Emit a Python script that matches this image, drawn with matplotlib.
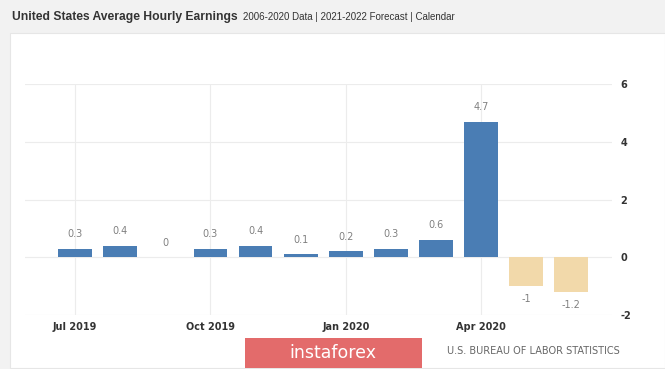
import numpy as np
import matplotlib.pyplot as plt
from matplotlib.patches import Rectangle

# monthly change in average hourly earnings, Jul 2019 .. Jun 2020
months = ["Jul 2019", "Aug 2019", "Sep 2019", "Oct 2019", "Nov 2019", "Dec 2019",
          "Jan 2020", "Feb 2020", "Mar 2020", "Apr 2020", "May 2020", "Jun 2020"]
values = [0.3, 0.4, 0, 0.3, 0.4, 0.1, 0.2, 0.3, 0.6, 4.7, -1, -1.2]
tick_idx = [0, 3, 6, 9]
yticks = [-2, 0, 2, 4, 6]

blue = "#4a7db4"
tan = "#f2d9aa"

plt.rcParams["axes.unicode_minus"] = False

fig = plt.figure(figsize=(6.65, 3.69), dpi=100)
fig.patch.set_facecolor("#f2f2f2")

# white panel behind the chart
fig.patches.append(Rectangle((10 / 665, 1 / 369), 655 / 665, 335 / 369,
                             transform=fig.transFigure, facecolor="white",
                             edgecolor="#e6e6e6", lw=0.8, zorder=-5))

fig.text(12 / 665, 1 - 17 / 369, "United States Average Hourly Earnings",
         fontsize=8.7, fontweight="bold", color="#333333", va="center",
         family="Liberation Sans")
fig.text(243 / 665, 1 - 17 / 369, "2006-2020 Data | 2021-2022 Forecast | Calendar",
         fontsize=7.0, color="#333333", va="center", family="Liberation Sans")

ax = fig.add_axes([25 / 665, 54 / 369, 587 / 665, 231 / 369])
ax.set_zorder(2)
ax.set_facecolor("none")

x = np.arange(len(values))
colors = [blue if v >= 0 else tan for v in values]
ax.bar(x, values, width=0.75, color=colors, zorder=3)

for xi, v in zip(x, values):
    if v >= 0:
        ax.annotate(f"{v:g}", (xi, v), xytext=(0, 7), textcoords="offset points",
                    ha="center", va="bottom", fontsize=7, color="#808080")
    else:
        ax.annotate(f"{v:g}", (xi, v), xytext=(0, -6), textcoords="offset points",
                    ha="center", va="top", fontsize=7, color="#808080")

ax.set_xlim(-1.11, 11.9)
ax.set_ylim(-2, 6)
ax.set_yticks(yticks)
ax.set_xticks(tick_idx)
ax.set_xticklabels([months[i] for i in tick_idx])
ax.yaxis.tick_right()
ax.tick_params(axis="y", length=0, pad=6, labelsize=7, labelcolor="#333333")
ax.tick_params(axis="x", length=0, pad=5, labelsize=7, labelcolor="#333333")
for lab in ax.get_xticklabels() + ax.get_yticklabels():
    lab.set_fontweight("bold")

ax.grid(True, color="#ececec", lw=0.8, zorder=0)
for s in ax.spines.values():
    s.set_visible(False)

# footer
fig.patches.append(Rectangle((245 / 665, 1 / 369), 177 / 665, 30 / 369,
                             transform=fig.transFigure, facecolor="#e36b6b",
                             edgecolor="none", zorder=1))
fig.text(333 / 665, 16 / 369, "instaforex", fontsize=12.5, color="white",
         ha="center", va="center", zorder=2)
fig.text(620 / 665, 18 / 369, "U.S. BUREAU OF LABOR STATISTICS", fontsize=7,
         color="#666666", ha="right", va="center")

fig.savefig("out.png", dpi=100, facecolor=fig.get_facecolor())
